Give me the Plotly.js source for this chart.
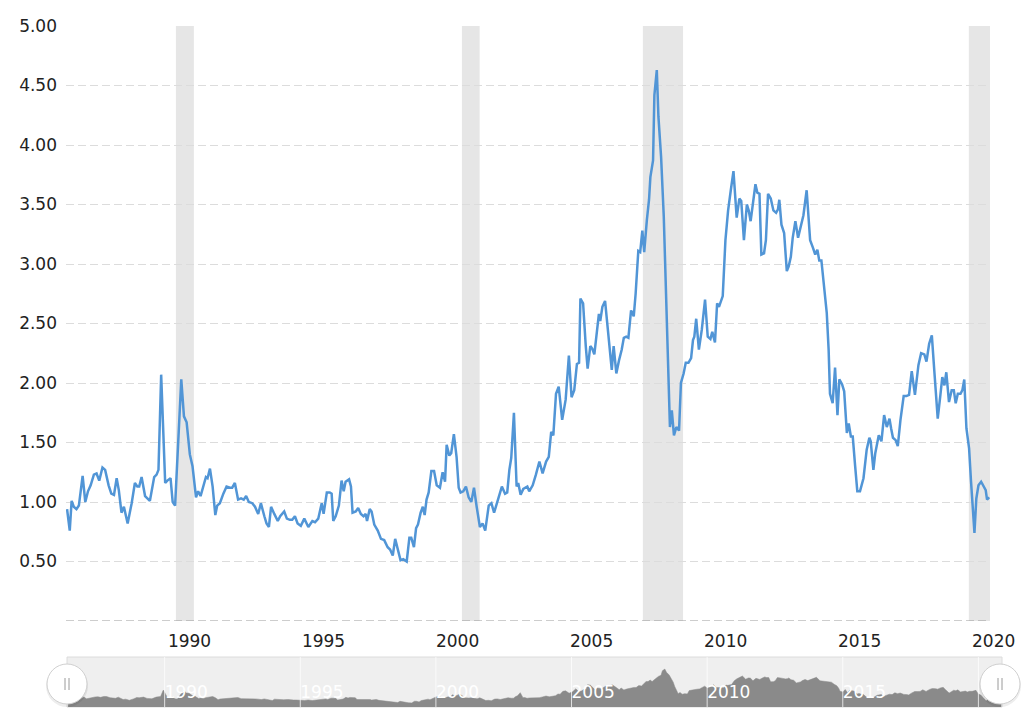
<!DOCTYPE html>
<html><head><meta charset="utf-8">
<script src="https://cdn.plot.ly/plotly-3.0.1.min.js"></script>
<style>html,body{margin:0;padding:0;background:#fff}#chart{width:1033px;height:717px}</style>
</head><body><div id="chart"></div>
<script>
// decimal-year dates and values, grouped by year (same grouping in both arrays)
const dates = [
1986.44,1986.54,1986.61,1986.69,1986.79,1986.88,
1987.02,1987.12,1987.22,1987.32,1987.44,1987.54,1987.64,1987.76,1987.86,1987.99,
1988.09,1988.19,1988.29,1988.37,1988.47,1988.56,1988.70,1988.85,1988.97,
1989.06,1989.13,1989.22,1989.35,1989.53,1989.69,1989.78,1989.85,1989.95,
1990.10,1990.18,1990.30,1990.38,1990.47,1990.70,1990.80,1990.90,
1991.02,1991.12,1991.25,1991.33,1991.42,1991.52,1991.62,1991.68,1991.77,1991.87,1991.97,
1992.04,1992.14,1992.27,1992.39,1992.52,1992.60,1992.70,1992.82,1992.93,
1993.03,1993.12,1993.22,1993.35,1993.45,1993.57,1993.67,1993.80,1993.88,1993.97,
1994.05,1994.17,1994.30,1994.39,1994.54,1994.64,1994.75,1994.84,1994.94,
1995.04,1995.16,1995.29,1995.44,1995.59,1995.69,1995.81,1995.94,
1996.01,1996.13,1996.24,1996.31,1996.37,1996.46,1996.58,1996.68,1996.76,1996.83,1996.96,
1997.03,1997.09,1997.21,1997.30,1997.40,1997.50,1997.58,1997.63,1997.73,1997.80,1997.90,
1998.03,1998.15,1998.27,1998.40,1998.49,1998.59,1998.68,1998.78,1998.88,1998.98,
1999.11,1999.21,1999.28,1999.38,1999.46,1999.53,1999.63,1999.71,1999.78,1999.85,1999.93,
2000.03,2000.13,2000.23,2000.35,2000.45,2000.54,2000.60,2000.70,2000.77,2000.87,2000.97,
2001.05,2001.12,2001.22,2001.32,2001.42,2001.52,2001.62,2001.72,2001.84,2001.94,
2002.04,2002.17,2002.27,2002.37,2002.47,2002.56,2002.66,2002.78,2002.86,2002.94,
2003.01,2003.11,2003.21,2003.27,2003.36,2003.46,2003.61,2003.68,2003.81,2003.93,
2004.06,2004.18,2004.31,2004.41,2004.50,2004.58,2004.68,2004.78,2004.91,
2005.04,2005.16,2005.26,2005.36,2005.46,2005.54,2005.59,2005.69,2005.79,2005.86,2005.96,
2006.03,2006.11,2006.21,2006.28,2006.33,2006.41,2006.51,2006.61,2006.68,2006.76,2006.83,2006.93,
2007.03,2007.13,2007.21,2007.30,2007.38,2007.48,2007.58,2007.65,2007.75,2007.82,2007.90,2007.97,
2008.07,2008.15,2008.20,2008.30,2008.35,2008.44,2008.50,2008.60,2008.70,2008.75,2008.80,2008.87,2008.93,
2009.00,2009.08,2009.17,2009.27,2009.34,2009.44,2009.52,2009.62,2009.72,2009.79,2009.84,2009.91,
2010.01,2010.12,2010.24,2010.34,2010.44,2010.51,2010.61,2010.69,2010.76,2010.90,
2011.00,2011.10,2011.20,2011.30,2011.42,2011.52,2011.59,2011.69,2011.80,2011.87,2011.94,
2012.02,2012.12,2012.19,2012.27,2012.34,2012.44,2012.51,2012.59,2012.69,2012.79,2012.89,2012.96,
2013.01,2013.09,2013.19,2013.29,2013.36,2013.44,2013.51,2013.61,2013.71,2013.81,2013.91,
2014.03,2014.16,2014.26,2014.35,2014.43,2014.50,2014.58,2014.68,2014.78,2014.85,2014.90,
2015.00,2015.09,2015.18,2015.25,2015.35,2015.43,2015.53,2015.60,2015.68,2015.75,2015.84,2015.92,
2016.02,2016.15,2016.27,2016.37,2016.42,2016.52,2016.59,2016.72,2016.82,2016.92,
2017.02,2017.12,2017.18,2017.25,2017.35,2017.43,2017.53,2017.65,2017.75,2017.85,2017.95,
2018.07,2018.20,2018.30,2018.42,2018.50,2018.60,2018.70,2018.79,2018.92,
2019.02,2019.09,2019.17,2019.24,2019.34,2019.44,2019.52,2019.59,2019.67,2019.77,2019.84,2019.91,2019.99,
2020.09,2020.16,2020.24,2020.29,2020.36,2020.44,2020.54,2020.64,2020.71,2020.76,2020.84
];
const values = [
0.94,0.76,1.01,0.96,0.94,0.97,
1.22,1.00,1.09,1.14,1.23,1.24,1.18,1.29,1.27,1.14,
1.07,1.06,1.20,1.10,0.91,0.96,0.82,0.99,1.16,
1.13,1.13,1.21,1.05,1.01,1.21,1.23,1.27,2.07,
1.16,1.18,1.20,1.00,0.97,2.03,1.72,1.67,
1.40,1.30,1.04,1.09,1.05,1.14,1.21,1.20,1.28,1.13,0.89,
0.97,0.99,1.07,1.13,1.12,1.12,1.16,1.02,1.03,
1.02,1.05,1.00,0.99,0.96,0.90,0.99,0.88,0.82,0.79,
0.96,0.90,0.84,0.88,0.92,0.86,0.85,0.85,0.88,
0.82,0.80,0.86,0.79,0.84,0.83,0.86,0.99,
0.90,1.08,1.08,1.07,0.84,0.88,0.97,1.18,1.09,1.17,1.19,
1.13,0.91,0.92,0.95,0.90,0.88,0.90,0.84,0.94,0.92,0.81,
0.76,0.69,0.68,0.62,0.60,0.55,0.69,0.61,0.51,0.52,
0.50,0.70,0.70,0.62,0.78,0.81,0.91,0.96,0.89,1.02,1.08,
1.26,1.26,1.14,1.12,1.25,1.17,1.48,1.39,1.41,1.57,1.38,
1.12,1.08,1.09,1.13,1.04,1.00,1.12,0.96,0.79,0.82,
0.76,0.97,0.99,0.91,0.98,1.06,1.13,1.07,1.08,1.27,
1.37,1.75,1.13,1.16,1.06,1.11,1.13,1.09,1.14,1.23,
1.34,1.24,1.34,1.38,1.59,1.56,1.91,1.97,1.69,
1.86,2.23,1.88,1.94,2.16,2.17,2.71,2.67,2.31,2.12,2.31,
2.29,2.24,2.45,2.58,2.52,2.64,2.69,2.46,2.24,2.11,2.31,2.08,
2.19,2.28,2.38,2.39,2.38,2.61,2.56,2.75,3.11,3.10,3.28,3.10,
3.37,3.54,3.73,3.87,4.42,4.63,4.24,3.90,3.40,3.03,2.53,2.11,1.63,
1.77,1.56,1.63,1.60,2.00,2.08,2.17,2.17,2.21,2.36,2.39,2.54,
2.28,2.45,2.70,2.39,2.37,2.43,2.34,2.67,2.64,2.73,
3.20,3.45,3.62,3.78,3.39,3.55,3.53,3.20,3.50,3.45,3.36,
3.51,3.67,3.60,3.59,3.08,3.09,3.20,3.59,3.55,3.45,3.43,3.46,
3.54,3.33,3.26,2.94,2.98,3.06,3.22,3.36,3.22,3.33,3.41,
3.62,3.20,3.14,3.08,3.12,3.03,3.03,2.78,2.59,2.28,1.91,
1.83,2.13,1.73,2.03,1.99,1.93,1.58,1.66,1.55,1.55,1.30,1.09,
1.09,1.20,1.44,1.54,1.51,1.27,1.41,1.56,1.51,1.73,
1.63,1.70,1.62,1.54,1.52,1.47,1.69,1.89,1.89,1.90,2.10,
1.90,2.15,2.25,2.24,2.18,2.33,2.40,2.11,1.70,
1.90,2.05,1.98,2.09,1.84,1.94,1.94,1.83,1.91,1.91,1.94,2.03,1.62,
1.45,1.18,0.92,0.74,1.03,1.14,1.17,1.13,1.10,1.02,1.04
];
const recessions = [[1990.50,1991.17],[2001.17,2001.83],[2007.92,2009.42],[2020.08,2020.87]];
const yearTicks = [1990,1995,2000,2005,2010,2015,2020];
const yTicks = [0.5,1,1.5,2,2.5,3,3.5,4,4.5,5];
const xRange = [1986.40, 2020.87];

const FONT = 'DejaVu Sans, Verdana, sans-serif';
const plotW = 936, plotH = 681;

const shapes = [];
recessions.forEach(r => shapes.push({type:'rect', xref:'x', yref:'y domain', x0:r[0], x1:r[1], y0:0, y1:1,
  fillcolor:'#e6e6e6', line:{width:0}, layer:'below'}));
shapes.push({type:'line', xref:'x domain', yref:'y', x0:0, x1:1, y0:0, y1:0,
  line:{color:'#9a9a9a', width:1, dash:'8px,4px'}, layer:'above'});
// navigator background
shapes.push({type:'rect', xref:'x2 domain', yref:'y2 domain', x0:0, x1:1, y0:0, y1:1,
  fillcolor:'#efefef', line:{color:'#dcdcdc', width:1}, layer:'below'});
yearTicks.forEach(t => shapes.push({type:'line', xref:'x2', yref:'y2 domain', x0:t, x1:t, y0:0, y1:1,
  line:{color:'rgba(255,255,255,0.75)', width:1}, layer:'above'}));
// navigator handles
[[1/plotW, 23/plotH],[934/plotW, 23/plotH]].forEach(c => {
  shapes.push({type:'circle', xref:'paper', yref:'paper', xsizemode:'pixel', ysizemode:'pixel',
    xanchor:c[0], yanchor:c[1], x0:-21, x1:21, y0:-23, y1:19, fillcolor:'rgba(0,0,0,0.07)', line:{width:0}, layer:'above'});
  shapes.push({type:'circle', xref:'paper', yref:'paper', xsizemode:'pixel', ysizemode:'pixel',
    xanchor:c[0], yanchor:c[1], x0:-20, x1:20, y0:-20, y1:20, fillcolor:'#ffffff', line:{color:'#d0d0d0', width:1}, layer:'above'});
  [-2,2].forEach(d => shapes.push({type:'line', xref:'paper', yref:'paper', xsizemode:'pixel', ysizemode:'pixel',
    xanchor:c[0], yanchor:c[1], x0:d, x1:d, y0:-6, y1:6, line:{color:'#9a9a9a', width:1}, layer:'above'}));
});

const traces = [
  {x:dates, y:values, type:'scatter', mode:'lines', line:{color:'#5195d6', width:2.5}, hoverinfo:'skip', xaxis:'x', yaxis:'y'},
  {x:dates, y:values, type:'scatter', mode:'lines', fill:'tozeroy', fillcolor:'#8a8a8a', line:{color:'#8a8a8a', width:0.5}, hoverinfo:'skip', xaxis:'x2', yaxis:'y2'}
];

const layout = {
  width:1033, height:717, showlegend:false,
  margin:{l:66, r:31, t:26, b:10, pad:0},
  paper_bgcolor:'#ffffff', plot_bgcolor:'rgba(0,0,0,0)',
  font:{family:FONT, size:17, color:'#222'},
  xaxis:{domain:[0, 924/plotW], range:xRange, tickmode:'array', tickvals:yearTicks, ticktext:yearTicks.map(String),
    showgrid:false, zeroline:false, showline:false, ticks:'', ticklabelshift:27, ticklabelstandoff:8,
    tickfont:{family:FONT, size:17, color:'#222'}, fixedrange:true, anchor:'y'},
  yaxis:{domain:[86/plotH, 1], range:[0,5], tickmode:'array', tickvals:yTicks, ticktext:yTicks.map(v=>v.toFixed(2)),
    showgrid:true, gridcolor:'#dcdcdc', griddash:'8px,4px', gridwidth:1, zeroline:false, showline:false, ticks:'',
    ticklabelstandoff:8, tickfont:{family:FONT, size:17, color:'#222'}, fixedrange:true, anchor:'x'},
  xaxis2:{domain:[1/plotW, 1], range:xRange, tickmode:'array', tickvals:yearTicks, ticktext:yearTicks.map(String),
    showgrid:false, zeroline:false, showline:false, ticks:'', ticklabelposition:'inside right',
    tickfont:{family:FONT, size:17, color:'#ffffff'}, layer:'above traces', fixedrange:true, anchor:'y2'},
  yaxis2:{domain:[0, 50/plotH], range:[0,6.1], showgrid:false, zeroline:false, showline:false, showticklabels:false,
    ticks:'', fixedrange:true, anchor:'x2'},
  shapes:shapes
};

Plotly.newPlot('chart', traces, layout, {staticPlot:true, displayModeBar:false});
</script>
</body></html>
